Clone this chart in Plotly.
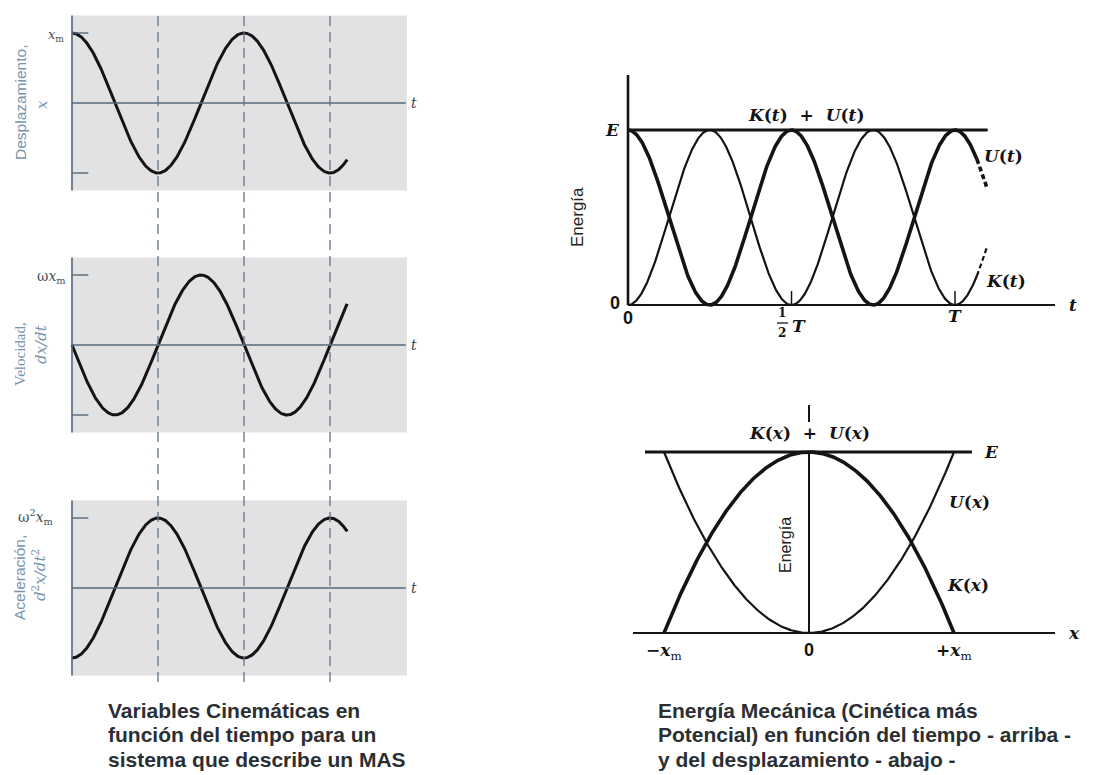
import numpy as np
import plotly.graph_objects as go

W, H = 1099, 775

# ---------------- values ----------------
PERIOD = 1.0                 # T
AMPLITUDE = 1.0              # x_m, ω x_m, ω² x_m (each panel in its own unit)
KIN_T_END = 1.6              # kinematic traces run to 1.6 T
GUIDE_TIMES = [0.5, 1.0, 1.5]  # dashed guides at T/2, T, 3T/2
KIN_TITLES = ["Desplazamiento,", "Velocidad,", "Aceleración,"]
KIN_SYMBOLS = ["<i>x</i>", "<i>dx/dt</i>", "<i>d</i><sup>2</sup><i>x/dt</i><sup>2</sup>"]
KIN_PEAK_LABELS = ["<i>x</i><sub>m</sub>", "ω<i>x</i><sub>m</sub>", "ω<sup>2</sup><i>x</i><sub>m</sub>"]
KIN_PHASES = ["cos", "-sin", "-cos"]  # x, dx/dt, d²x/dt²

E_TOTAL = 1.0                # total mechanical energy E
ENERGY_T_SOLID = 1.067       # solid part of K(t), U(t)
ENERGY_T_DASHED = 1.098      # dashed continuation
E_LINE_T_END = 1.10
T_TICKS = [0.5, 1.0]
X_AMPLITUDE = 1.0            # x_m for the energy vs position plot

LEFT_CAPTION = ["Variables Cinemáticas en",
                "función del tiempo para un",
                "sistema que describe un MAS"]
RIGHT_CAPTION = ["Energía Mecánica (Cinética más",
                 "Potencial) en función del tiempo - arriba -",
                 "y del desplazamiento - abajo -"]

# ---------------- helpers ----------------
def xaxis_px(left, right, p0, v0, p1, v1):
    k = (v1 - v0) / (p1 - p0)
    return dict(domain=[left / W, right / W],
                range=[v0 + (left - p0) * k, v0 + (right - p0) * k],
                visible=False, fixedrange=True)


def yaxis_px(top, bottom, p0, v0, p1, v1):
    k = (v1 - v0) / (p1 - p0)
    return dict(domain=[1 - bottom / H, 1 - top / H],
                range=[v0 + (bottom - p0) * k, v0 + (top - p0) * k],
                visible=False, fixedrange=True)


def px(x):
    return x / W


def py(y):
    return 1 - y / H


def label(text, x, y, font, xref="paper", yref="paper", **kw):
    d = dict(xref=xref, yref=yref, x=x, y=y, text=text, showarrow=False,
             xanchor="center", yanchor="middle", font=font)
    d.update(kw)
    return d


INK = "#141414"
AXIS_BLUE = "#55697b"
LABEL_BLUE = "#7893ad"
GRAY_BG = "#e2e2e2"
SERIF = "DejaVu Serif"
SANS = "Liberation Sans"
NARROW = "Liberation Sans Narrow"

fig = go.Figure()
shapes = []
annos = []
layout_axes = {}

# ---------------- kinematic panels (left) ----------------
panels = [(10, 197, 103), (252, 438, 345), (495, 681, 588)]  # (top, bottom, zero-line) px
t = np.linspace(0, KIN_T_END * PERIOD, 500)
w = 2 * np.pi / PERIOD
curves = {"cos": AMPLITUDE * np.cos(w * t),
          "-sin": -AMPLITUDE * np.sin(w * t),
          "-cos": -AMPLITUDE * np.cos(w * t)}

for i, (top, bottom, zero) in enumerate(panels):
    n = i + 1
    xa = "x" if n == 1 else f"x{n}"
    ya = "y" if n == 1 else f"y{n}"
    layout_axes["xaxis" if n == 1 else f"xaxis{n}"] = xaxis_px(62, 418, 72, 0, 244, PERIOD)
    layout_axes["yaxis" if n == 1 else f"yaxis{n}"] = yaxis_px(top, bottom, zero, 0, zero - 70, AMPLITUDE)

    # shaded panel
    shapes.append(dict(type="rect", xref=xa, yref=ya, x0=-0.006, x1=1.948,
                       y0=-1.25, y1=1.25, fillcolor=GRAY_BG, line_width=0, layer="below"))
    # axes
    shapes.append(dict(type="line", xref=xa, yref=ya, x0=0, x1=0, y0=-1.25, y1=1.25,
                       line=dict(color=AXIS_BLUE, width=1.6)))
    shapes.append(dict(type="line", xref=xa, yref=ya, x0=0, x1=1.94, y0=0, y1=0,
                       line=dict(color=AXIS_BLUE, width=1.4)))
    # amplitude ticks
    tick_vals = [AMPLITUDE, -AMPLITUDE] if n < 3 else [AMPLITUDE]
    for tv in tick_vals:
        shapes.append(dict(type="line", xref=xa, yref=ya, x0=0, x1=0.095, y0=tv, y1=tv,
                           line=dict(color=AXIS_BLUE, width=1.4)))

    fig.add_trace(go.Scatter(x=t, y=curves[KIN_PHASES[i]], mode="lines", xaxis=xa, yaxis=ya,
                             line=dict(color=INK, width=3), hoverinfo="skip", showlegend=False))

    annos.append(label("<i>t</i>", 1.988, 0, dict(family=SERIF, size=14, color="#3a4650"),
                       xref=xa, yref=ya))

# peak labels
peak_pos = [(66, 35, 13), (68, 277, 14), (56, 517, 14)]
for lab, (x, y, s) in zip(KIN_PEAK_LABELS, peak_pos):
    annos.append(label(lab, px(x), py(y), dict(family=SERIF, size=s, color="#46525c"),
                       xanchor="right"))

# rotated axis titles
title_fonts = [dict(family=SANS, size=15.5, color=LABEL_BLUE),
               dict(family=NARROW, size=15, color=LABEL_BLUE),
               dict(family=SANS, size=15.5, color=LABEL_BLUE)]
title_pos = [((20, 103), (42, 105)), ((20, 354), (41, 344)), ((19, 578), (39, 575))]
for ttl, sym, fnt, ((x1, y1), (x2, y2)) in zip(KIN_TITLES, KIN_SYMBOLS, title_fonts, title_pos):
    annos.append(label(ttl, px(x1), py(y1), fnt, textangle=-90))
    annos.append(label(sym, px(x2), py(y2), dict(family=SERIF, size=15, color=LABEL_BLUE),
                       textangle=-90))

# dashed guides through the three panels
for gt in GUIDE_TIMES:
    shapes.append(dict(type="line", xref="x", yref="paper", x0=gt, x1=gt,
                       y0=py(682), y1=py(15),
                       line=dict(color="#5f7587", width=1.3, dash="10px,6px")))

# ---------------- energy vs time (top right) ----------------
layout_axes["xaxis4"] = xaxis_px(615, 1065, 628, 0, 955, PERIOD)
layout_axes["yaxis4"] = yaxis_px(65, 318, 305, 0, 130, E_TOTAL)

ts = np.linspace(0, ENERGY_T_SOLID * PERIOD, 500)
td = np.linspace(ENERGY_T_SOLID * PERIOD, ENERGY_T_DASHED * PERIOD, 30)


def U_t(tt):
    return E_TOTAL * np.cos(w * tt) ** 2


def K_t(tt):
    return E_TOTAL * np.sin(w * tt) ** 2


for f, wid in ((U_t, 3.6), (K_t, 2.2)):
    fig.add_trace(go.Scatter(x=ts, y=f(ts), mode="lines", xaxis="x4", yaxis="y4",
                             line=dict(color=INK, width=wid), hoverinfo="skip", showlegend=False))
    fig.add_trace(go.Scatter(x=td, y=f(td), mode="lines", xaxis="x4", yaxis="y4",
                             line=dict(color=INK, width=wid, dash="5px,3px"),
                             hoverinfo="skip", showlegend=False))

shapes += [
    dict(type="line", xref="x4", yref="y4", x0=0, x1=0, y0=0, y1=1.314,
         line=dict(color=INK, width=2.6)),
    dict(type="line", xref="x4", yref="y4", x0=0, x1=1.306, y0=0, y1=0,
         line=dict(color=INK, width=2.2)),
    dict(type="line", xref="x4", yref="y4", x0=0, x1=E_LINE_T_END, y0=E_TOTAL, y1=E_TOTAL,
         line=dict(color=INK, width=3.2)),
]
for tt in T_TICKS:
    shapes.append(dict(type="line", xref="x4", yref="y4", x0=tt, x1=tt, y0=0, y1=0.08,
                       line=dict(color=INK, width=1.5)))

bi = dict(family=SERIF, size=17, color=INK)
zero_font = dict(family=SANS, size=18, color=INK)
annos += [
    label("<b><i>K</i>(<i>t</i>)  +  <i>U</i>(<i>t</i>)</b>", 0.544, 1.086, bi, xref="x4", yref="y4"),
    label("<b><i>E</i></b>", px(612), E_TOTAL, bi, yref="y4"),
    label("<b>0</b>", px(615), py(303), zero_font),
    label("<b>0</b>", 0, py(318), zero_font, xref="x4"),
    label("<b>1</b>", px(782), py(313), dict(family=SERIF, size=12, color=INK)),
    label("<b>2</b>", px(782), py(333), dict(family=SERIF, size=12, color=INK)),
    label("<b><i>T</i></b>", px(799), py(326), bi),
    label("<b><i>T</i></b>", 1.0, py(316), bi, xref="x4"),
    label("<b><i>t</i></b>", px(1073), 0, bi, yref="y4"),
    label("<b><i>U</i>(<i>t</i>)</b>", px(1003), py(156), bi),
    label("<b><i>K</i>(<i>t</i>)</b>", px(1006), py(281), bi),
    label("Energía", px(577), py(217), dict(family=SANS, size=17, color="#222"), textangle=-90),
]
shapes.append(dict(type="line", xref="paper", yref="paper", x0=px(777), x1=px(788),
                   y0=py(323), y1=py(323), line=dict(color=INK, width=1.3)))

# ---------------- energy vs position (bottom right) ----------------
layout_axes["xaxis5"] = xaxis_px(625, 1065, 809, 0, 954, X_AMPLITUDE)
layout_axes["yaxis5"] = yaxis_px(395, 645, 633, 0, 452, E_TOTAL)

xs = np.linspace(-X_AMPLITUDE, X_AMPLITUDE, 500)
U_x = E_TOTAL * (xs / X_AMPLITUDE) ** 2
K_x = E_TOTAL - U_x
fig.add_trace(go.Scatter(x=xs, y=U_x, mode="lines", xaxis="x5", yaxis="y5",
                         line=dict(color=INK, width=2.2), hoverinfo="skip", showlegend=False))
fig.add_trace(go.Scatter(x=xs, y=K_x, mode="lines", xaxis="x5", yaxis="y5",
                         line=dict(color=INK, width=3.6), hoverinfo="skip", showlegend=False))

shapes += [
    dict(type="line", xref="x5", yref="y5", x0=0, x1=0, y0=0, y1=E_TOTAL,
         line=dict(color=INK, width=2)),
    dict(type="line", xref="x5", yref="y5", x0=0, x1=0, y0=1.166, y1=1.26,
         line=dict(color=INK, width=2)),
    dict(type="line", xref="x5", yref="y5", x0=-1.214, x1=1.697, y0=0, y1=0,
         line=dict(color=INK, width=2)),
    dict(type="line", xref="x5", yref="y5", x0=-1.131, x1=1.124, y0=E_TOTAL, y1=E_TOTAL,
         line=dict(color=INK, width=3.2)),
]
annos += [
    label("<b><i>K</i>(<i>x</i>)  +  <i>U</i>(<i>x</i>)</b>", 0, 1.105, bi, xref="x5", yref="y5"),
    label("<b><i>E</i></b>", px(991), E_TOTAL, bi, yref="y5"),
    label("<b><i>U</i>(<i>x</i>)</b>", px(969), py(502), bi),
    label("<b><i>K</i>(<i>x</i>)</b>", px(968), py(585), bi),
    label("Energía", px(785), py(545), dict(family=SANS, size=16, color="#222"), textangle=-90),
    label("<b>−<i>x</i></b><sub>m</sub>", -X_AMPLITUDE, py(651), bi, xref="x5"),
    label("<b>0</b>", 0, py(650), zero_font, xref="x5"),
    label("<b>+<i>x</i></b><sub>m</sub>", X_AMPLITUDE, py(651), bi, xref="x5"),
    label("<b><i>x</i></b>", px(1074), 0, bi, yref="y5"),
]

# ---------------- captions ----------------
cap_font = dict(family=SANS, size=21, color="#2b2f33")
for lines, x0, y0 in ((LEFT_CAPTION, 107, 710), (RIGHT_CAPTION, 657, 710)):
    for j, line in enumerate(lines):
        annos.append(label(f"<b>{line}</b>", px(x0), py(y0 + 24.5 * j), cap_font,
                           xanchor="left", borderpad=0))

fig.update_layout(
    width=W, height=H, margin=dict(l=0, r=0, t=0, b=0),
    paper_bgcolor="white", plot_bgcolor="rgba(0,0,0,0)",
    shapes=shapes, annotations=annos, showlegend=False, **layout_axes,
)
fig.write_html("out.html", config={"displayModeBar": False})
